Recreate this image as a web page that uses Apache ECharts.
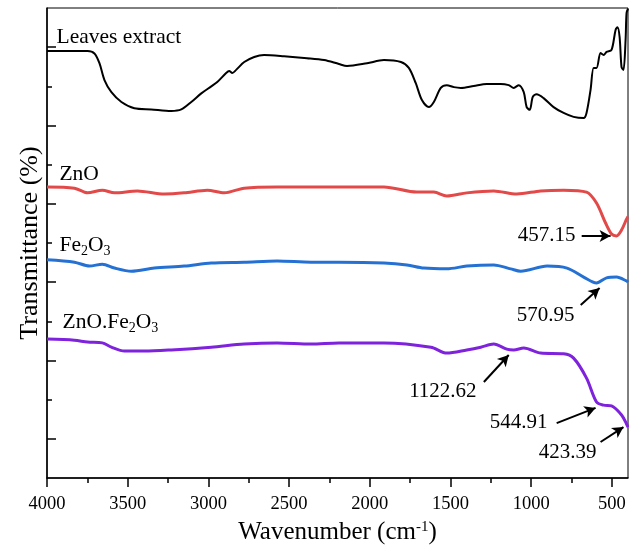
<!DOCTYPE html>
<html>
<head>
<meta charset="utf-8">
<script src="https://cdn.jsdelivr.net/npm/echarts@6/dist/echarts.min.js"></script>
<style>html,body{margin:0;padding:0;background:#fff;}#c{width:629px;height:548px;}</style>
</head>
<body>
<div id="c"></div>
<script>
// ---- data ----
const leavesWn = [4000,3749,3706,3675,3644,3601,3539,3459,3354,3230,3168,3106,3044,2982,2945,2890,2871,2852,2828,2778,2716,2655,2531,2389,2283,2191,2141,2017,1912,1807,1758,1715,1677,1634,1603,1560,1523,1479,1436,1356,1275,1189,1139,1108,1077,1046,1028,1009,990,966,923,861,799,737,675,657,632,613,595,570,551,533,502,477,465,452,440,428,415,409,400];
const leavesT = [10.90,10.90,10.84,10.59,10.16,9.85,9.60,9.44,9.41,9.37,9.41,9.60,9.82,10.00,10.11,10.34,10.39,10.34,10.42,10.62,10.75,10.80,10.77,10.72,10.67,10.57,10.52,10.59,10.67,10.62,10.47,10.08,9.65,9.47,9.60,9.96,10.03,9.98,9.96,10.01,10.06,10.06,10.03,9.96,10.03,9.85,9.47,9.40,9.73,9.80,9.70,9.47,9.32,9.22,9.19,9.32,9.91,10.47,10.47,10.85,10.80,10.88,10.93,11.44,11.51,11.26,10.49,10.42,11.18,11.87,11.98];

const znoWn = [4000,3830,3749,3657,3582,3440,3273,3150,3007,2902,2778,2574,2364,2191,1912,1708,1603,1523,1399,1232,1089,941,799,657,595,539,502,471,440,409,400];
const znoT = [7.43,7.40,7.28,7.35,7.28,7.33,7.25,7.28,7.35,7.28,7.40,7.43,7.43,7.43,7.43,7.30,7.30,7.20,7.28,7.33,7.25,7.33,7.35,7.30,7.02,6.51,6.23,6.18,6.33,6.61,6.68];

const fe2o3Wn = [4000,3830,3737,3657,3582,3477,3335,3150,2982,2778,2574,2364,2191,1912,1770,1665,1523,1399,1232,1127,1065,901,778,675,595,533,471,409,400];
const fe2o3T = [5.57,5.51,5.41,5.46,5.36,5.28,5.36,5.41,5.49,5.51,5.54,5.51,5.51,5.49,5.44,5.36,5.34,5.41,5.44,5.34,5.28,5.41,5.36,5.13,4.98,5.11,5.13,5.03,5.00];

const compWn = [4000,3830,3749,3657,3601,3520,3397,3230,2982,2778,2574,2364,2191,1912,1621,1523,1399,1312,1232,1151,1108,1046,941,799,737,657,595,551,502,440,409,400];
const compT = [3.55,3.52,3.47,3.45,3.34,3.24,3.24,3.27,3.34,3.42,3.45,3.42,3.45,3.45,3.34,3.19,3.27,3.34,3.42,3.29,3.27,3.32,3.19,3.17,3.06,2.55,1.94,1.86,1.84,1.61,1.38,1.30];

const xMajorTicks = [500,1000,1500,2000,2500,3000,3500,4000];
const xMinorTicks = [750,1250,1750,2250,2750,3250,3750];
const yMajorTicks = [1,3,5,7,9,11];
const yMinorTicks = [2,4,6,8,10];

const seriesNames = ['Leaves extract','ZnO','Fe{sub|2}O{sub|3}','ZnO.Fe{sub|2}O{sub|3}'];
const annotTexts = ['457.15','570.95','1122.62','544.91','423.39'];

// ---- layout (annotation anchors, in data units) ----
const nameAnchors = [[3941,11.26],[3923,7.74],[3923,5.95],[3904,3.98]];
const annotAnchors = [[904,6.20],[910,4.16],[1547,2.20],[1077,1.43],[774,0.64]];
const arrowFrom = [[687,6.18],[693,4.42],[1293,2.45],[842,1.40],[570,0.92]];
const arrowTo = [[508,6.18],[576,4.85],[1139,3.14],[601,1.79],[428,1.30]];

const zip = (a,b) => a.map((v,i) => [v, b[i]]);
const FONT = 'Liberation Serif';
const richStyles = {
  n: {fontFamily: FONT, fontSize: 21.5, color: '#000', verticalAlign: 'top', lineHeight: 22},
  sub: {fontFamily: FONT, fontSize: 14, color: '#000', verticalAlign: 'top', lineHeight: 14, padding: [10,0,0,0]}
};

const chart = echarts.init(document.getElementById('c'), null, {renderer: 'canvas'});

const lineSeries = (name, data, color, width) => ({
  type: 'line', name, data, showSymbol: false, smooth: 0.3, silent: true,
  lineStyle: {color, width}, animation: false, z: 3
});

const s0 = lineSeries('Leaves extract', zip(leavesWn, leavesT), '#000000', 2);
const s1 = lineSeries('ZnO', zip(znoWn, znoT), '#E24A4A', 3);
const s2 = lineSeries('Fe2O3', zip(fe2o3Wn, fe2o3T), '#2471D3', 3);
const s3 = lineSeries('ZnO.Fe2O3', zip(compWn, compT), '#7E22DC', 3);

const annSeries = {
  type: 'line', data: [], silent: true, animation: false,
  markPoint: {
    symbol: 'circle', symbolSize: 0, animation: false,
    data: nameAnchors.map((c,i) => ({
      coord: c, name: seriesNames[i],
      label: {show: true, position: 'right', distance: 0, formatter: p => seriesNames[i].split(/(\{sub\|\d\})/).map(t => t.startsWith('{sub') ? t : (t ? '{n|' + t + '}' : '')).join(''), rich: richStyles}
    })).concat(annotAnchors.map((c,i) => ({
      coord: c, name: annotTexts[i],
      label: {show: true, position: 'inside', formatter: annotTexts[i], fontFamily: FONT, fontSize: 21, color: '#000'}
    })))
  },
  markLine: {
    silent: true, animation: false, symbol: ['none','arrow'], symbolSize: [9,11],
    label: {show: false},
    lineStyle: {color: '#000', width: 2, type: 'solid'},
    data: arrowFrom.map((f,i) => [{coord: f}, {coord: arrowTo[i]}])
  }
};

const option = {
  animation: false,
  backgroundColor: '#fff',
  grid: {left: 47, right: 1, top: 8, bottom: 70, show: true, borderColor: '#000', borderWidth: 1,
         containLabel: false, outerBoundsMode: 'none'},
  xAxis: [{
    type: 'value', min: 400, max: 4000, inverse: true,
    name: 'Wavenumber (cm{sup|-1})', nameLocation: 'middle', nameGap: 42,
    nameTextStyle: {fontFamily: FONT, fontSize: 25, color: '#000',
      rich: {sup: {fontFamily: FONT, fontSize: 15, color: '#000', verticalAlign: 'top', lineHeight: 14}}},
    axisLine: {show: true, lineStyle: {color: '#000', width: 1.5}},
    axisTick: {show: true, inside: false, length: 9, customValues: xMajorTicks, lineStyle: {color: '#000', width: 1.5}},
    axisLabel: {show: true, customValues: xMajorTicks, margin: 17, fontFamily: FONT, fontSize: 18.5, color: '#000',
                formatter: v => String(v)},
    splitLine: {show: false}
  }, {
    type: 'value', min: 400, max: 4000, inverse: true, position: 'bottom',
    axisLine: {show: false},
    axisTick: {show: true, inside: false, length: 5, customValues: xMinorTicks, lineStyle: {color: '#000', width: 1.5}},
    axisLabel: {show: false},
    splitLine: {show: false}
  }],
  yAxis: [{
    type: 'value', min: 0, max: 12,
    name: 'Transmittance (%)', nameLocation: 'middle', nameGap: 4,
    nameTextStyle: {fontFamily: FONT, fontSize: 26, color: '#000'},
    axisLine: {show: true, lineStyle: {color: '#000', width: 1.5}},
    axisTick: {show: true, inside: true, length: 9, customValues: yMajorTicks, lineStyle: {color: '#000', width: 1.5}},
    axisLabel: {show: false},
    splitLine: {show: false}
  }, {
    type: 'value', min: 0, max: 12, position: 'left',
    axisLine: {show: false},
    axisTick: {show: true, inside: true, length: 5, customValues: yMinorTicks, lineStyle: {color: '#000', width: 1.5}},
    axisLabel: {show: false},
    splitLine: {show: false}
  }],
  series: [s0, s1, s2, s3, annSeries]
};
chart.setOption(option);
</script>
</body>
</html>
